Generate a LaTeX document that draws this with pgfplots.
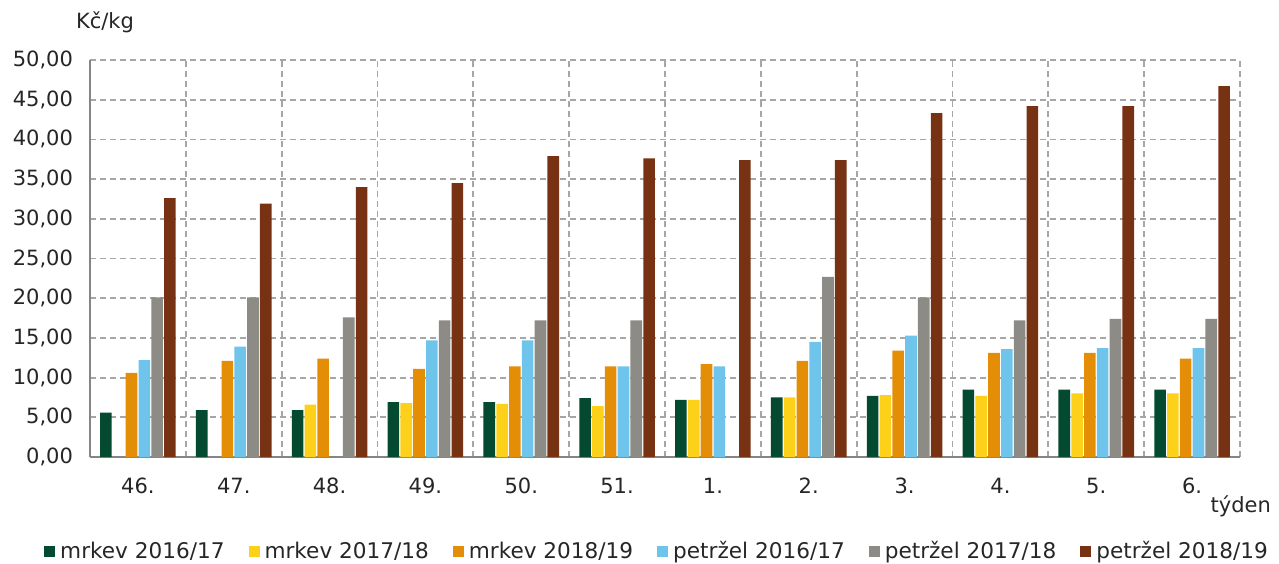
\documentclass[border=0pt]{standalone}
\usepackage{pgfplots}
\pgfplotsset{compat=1.18}
\usepackage{fontspec}
\setmainfont{DejaVu Sans}
\definecolor{cA}{HTML}{034A30}
\definecolor{cB}{HTML}{FDD11A}
\definecolor{cC}{HTML}{E48D07}
\definecolor{cD}{HTML}{6EC4EA}
\definecolor{cE}{HTML}{8C8B85}
\definecolor{cF}{HTML}{773213}
\definecolor{gridc}{HTML}{A6A6A6}
\definecolor{txt}{HTML}{262626}
\begin{document}
\begin{tikzpicture}
\path[use as bounding box] (0,0) rectangle (639.5pt,281.5pt);
\begin{axis}[
  at={(45pt,53pt)}, anchor=south west,
  scale only axis, width=575pt, height=198.5pt,
  ybar=0.6pt, bar width=5.8pt,
  xmin=-0.5, xmax=11.5, ymin=0, ymax=50,
  xtick={0,...,11},
  xticklabels={46.,47.,48.,49.,50.,51.,1.,2.,3.,4.,5.,6.},
  minor xtick={0.5,1.5,...,11.5},
  ytick={0,5,...,50},
  axis x line*=bottom, axis y line*=left,
  axis line style={gridc!80!black, line width=0.8pt},
  x axis line style={-}, y axis line style={-},
  major tick length=0pt, minor tick length=0pt,
  ymajorgrids, xminorgrids,
  grid style={gridc, dashed, line width=0.9pt, dash pattern=on 3pt off 2pt},
  yticklabel={\pgfmathprintnumber[fixed,fixed zerofill,precision=2,use comma]{\tick}},
  /pgf/number format/assume math mode=true,
  tick label style={font=\fontsize{10.5}{12}\selectfont, text=txt},
  yticklabel style={xshift=-5pt},
  xticklabel style={yshift=-7pt},
  every axis plot/.append style={draw=none},
  legend columns=6,
  legend style={draw=none, fill=none, at={(0.494,-0.238)}, anchor=center,
    font=\fontsize{10.8}{12}\selectfont, text=txt,
    /tikz/every even column/.append style={column sep=10pt},
    /tikz/every odd column/.append style={column sep=0.5pt}},
  legend image code/.code={\fill[#1, draw=none] (0pt,-2.9pt) rectangle (5.5pt,2.9pt);},
  clip=false,
]
\addplot[fill=cA] coordinates {(0,5.6)(1,5.9)(2,5.9)(3,6.9)(4,6.9)(5,7.4)(6,7.2)(7,7.5)(8,7.7)(9,8.5)(10,8.5)(11,8.5)};
\addplot[fill=cB] coordinates {(2,6.6)(3,6.8)(4,6.7)(5,6.4)(6,7.2)(7,7.5)(8,7.8)(9,7.7)(10,8.0)(11,8.0)};
\addplot[fill=cC] coordinates {(0,10.6)(1,12.1)(2,12.4)(3,11.1)(4,11.4)(5,11.4)(6,11.7)(7,12.1)(8,13.4)(9,13.1)(10,13.1)(11,12.4)};
\addplot[fill=cD] coordinates {(0,12.2)(1,13.9)(3,14.7)(4,14.7)(5,11.4)(6,11.4)(7,14.5)(8,15.3)(9,13.6)(10,13.7)(11,13.7)};
\addplot[fill=cE] coordinates {(0,20.1)(1,20.1)(2,17.6)(3,17.2)(4,17.2)(5,17.2)(7,22.7)(8,20.1)(9,17.2)(10,17.4)(11,17.4)};
\addplot[fill=cF] coordinates {(0,32.6)(1,31.9)(2,34.0)(3,34.5)(4,37.9)(5,37.6)(6,37.4)(7,37.4)(8,43.3)(9,44.2)(10,44.2)(11,46.7)};
\legend{mrkev 2016/17,mrkev 2017/18,mrkev 2018/19,petržel 2016/17,petržel 2017/18,petržel 2018/19}
\end{axis}
\node[anchor=west, text=txt, font=\fontsize{10.5}{12}\selectfont] at (34.5pt,270.5pt) {Kč/kg};
\node[anchor=east, text=txt, font=\fontsize{10.5}{12}\selectfont] at (639pt,28.5pt) {týden};
\end{tikzpicture}
\end{document}
